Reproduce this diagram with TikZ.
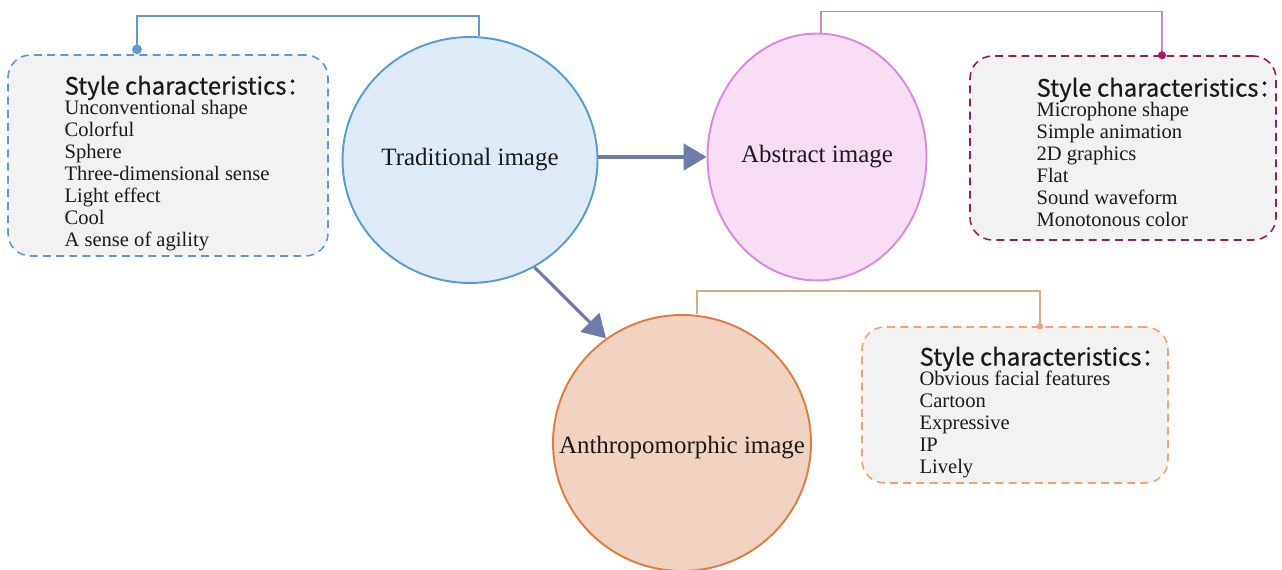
\documentclass[tikz,border=0pt]{standalone}
\usepackage{fontspec}
\setmainfont{Liberation Serif}
\newfontfamily\cjk[FakeBold=0.5]{Noto Sans CJK SC}
\usetikzlibrary{shapes.geometric,arrows.meta,positioning,calc}

\definecolor{tradline}{HTML}{5B9BD5}
\definecolor{tradfill}{HTML}{DEEBF7}
\definecolor{absline}{HTML}{D98BDB}
\definecolor{absfill}{HTML}{F6DDF4}
\definecolor{anthline}{HTML}{E47B3F}
\definecolor{anthfill}{HTML}{F0D3C1}
\definecolor{boxgray}{HTML}{F2F2F2}
\definecolor{absbox}{HTML}{A3195F}
\definecolor{anthbox}{HTML}{F2A274}
\definecolor{abslink}{HTML}{C48CBF}
\definecolor{anthlink}{HTML}{D9AA8C}
\definecolor{flowcol}{HTML}{6F7CAB}
\definecolor{txt}{HTML}{1A1A1A}

\begin{document}
\begin{tikzpicture}[x=0.02cm, y=-0.02cm,
    image/.style={ellipse, draw, line width=1.1pt, inner sep=0pt},
    imglabel/.style={inner sep=0pt, text=txt, font=\fontsize{14.2}{16}\selectfont},
    charbox/.style={rectangle, rounded corners=0.45cm, dash pattern=on 4.5pt off 3pt, line width=0.9pt, fill=boxgray},
    charlist/.style={align=left, inner sep=0pt, text=txt, font=\fontsize{11.7}{12.5}\selectfont},
    link/.style={line width=1.1pt},
    flow/.style={-{Triangle[length=13pt,width=15pt]}, line width=1.8pt, flowcol},
]
\useasboundingbox (0,0) rectangle (1282,570);

% the three images
\node[image, draw=tradline, fill=tradfill, minimum width=5.1cm, minimum height=4.92cm] (trad) at (470,160) {};
\node[image, draw=absline, fill=absfill, minimum width=4.38cm, minimum height=4.94cm] (abs) at (817,157) {};
\node[image, draw=anthline, fill=anthfill, minimum width=5.16cm, minimum height=5.12cm] (anth) at (682,443) {};
\node[imglabel] (tradtext) at (trad.center) {Traditional image};
\node[imglabel] (abstext) at (abs.center) {Abstract image};
\node[imglabel] (anthtext) at ([yshift=-0.1cm]anth.center) {Anthropomorphic image};

% characteristic boxes
\node[charbox, draw=tradline, minimum width=6.4cm, minimum height=4.02cm] (box1) at (168,155.5) {};
\node[charbox, draw=absbox, minimum width=6.12cm, minimum height=3.68cm] (box2) at (1123,148) {};
\node[charbox, draw=anthbox, minimum width=6.12cm, minimum height=3.12cm] (box3) at (1015,405) {};

\node[charlist, below right=0.42cm and 1.14cm of box1.north west] (list1) {{\cjk\fontsize{13.6}{12.5}\selectfont Style characteristics：}\\[-1.1pt]
Unconventional shape\\ Colorful\\ Sphere\\ Three-dimensional sense\\ Light effect\\ Cool\\ A sense of agility};
\node[charlist, below right=0.44cm and 1.34cm of box2.north west] (list2) {{\cjk\fontsize{13.6}{12.5}\selectfont Style characteristics：}\\[-1.1pt]
Microphone shape\\ Simple animation\\ 2D graphics\\ Flat\\ Sound waveform\\ Monotonous color};
\node[charlist, below right=0.40cm and 1.16cm of box3.north west] (list3) {{\cjk\fontsize{13.6}{12.5}\selectfont Style characteristics：}\\[-1.1pt]
Obvious facial features\\ Cartoon\\ Expressive\\ IP\\ Lively};

% brackets to the boxes
\draw[link, tradline, -{Circle[length=5.5pt]}] ([xshift=0.18cm]trad.north) -- ++(0,-20) -| ([xshift=-0.62cm]box1.north);
\draw[link, abslink, line width=0.9pt] ([xshift=0.08cm]abs.north) -- ++(0,-21) -| ([xshift=0.78cm]box2.north);
\fill[absbox] ([xshift=0.78cm]box2.north) circle (2.3pt);
\draw[link, anthlink, line width=0.9pt] ([xshift=0.3cm]anth.north) -- ++(0,-23) -| ([xshift=0.5cm]box3.north);
\fill[anthbox] ([xshift=0.5cm]box3.north) circle (1.8pt);

% flow between images
\draw[flow] (trad.east |- abs.west) -- (abs.west);
\draw[flow] (trad.-59) -- (anth.126);
\end{tikzpicture}
\end{document}
